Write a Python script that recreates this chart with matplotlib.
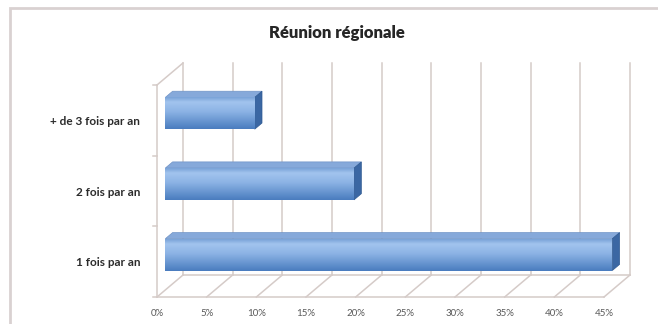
import numpy as np
import matplotlib
matplotlib.use("Agg")
import matplotlib.pyplot as plt
from matplotlib.patches import Polygon, Rectangle
from matplotlib.lines import Line2D
from matplotlib.transforms import IdentityTransform, ScaledTranslation
from matplotlib.colors import LinearSegmentedColormap

# survey answers, share of respondents (%)
categories = ["1 fois par an", "2 fois par an", "+ de 3 fois par an"]
values = [45, 19, 9]
x_ticks = [0, 5, 10, 15, 20, 25, 30, 35, 40, 45]
x_labels = ["0%", "5%", "10%", "15%", "20%", "25%", "30%", "35%", "40%", "45%"]
title = "Réunion régionale"

plt.rcParams["font.family"] = ["Lato", "DejaVu Sans"]

W, H, DPI = 658, 324, 100
fig = plt.figure(figsize=(W / DPI, H / DPI), dpi=DPI)
fig.patch.set_facecolor("white")

# front plane of the 3d box, in pixels
ax = fig.add_axes([157 / W, (H - 297) / H, 447 / W, 212 / H])
ax.set_xlim(0, 45)
ax.set_ylim(-0.5, 2.5)
ax.patch.set_alpha(0)
for s in ax.spines.values():
    s.set_visible(False)

# depth offset of the back wall (pixels, right / up)
DX, DY = 26, 22
grid_col = "#d5cbc8"


def pt(x, y, d):
    px, py = ax.transData.transform((x, y))
    return (px + d * DX, py + d * DY)


def shifted(d):
    return ax.transData + ScaledTranslation(d * DX / DPI, d * DY / DPI, fig.dpi_scale_trans)


def seg(p, q, color=grid_col, lw=1.1):
    ax.add_artist(Line2D([p[0], q[0]], [p[1], q[1]], transform=IdentityTransform(),
                         color=color, lw=lw, zorder=1, clip_on=False))


y0, y1 = -0.5, 2.5
# back wall gridlines + floor
for t in x_ticks:
    seg(pt(t, y0, 1), pt(t, y1, 1))
    seg(pt(t, y0, 0), pt(t, y0, 1))
seg(pt(0, y0, 0), pt(45, y0, 0))
seg(pt(0, y0, 1), pt(45, y0, 1))
# left wall
seg(pt(0, y0, 0), pt(0, y1, 0))
seg(pt(0, y1, 0), pt(0, y1, 1))
for c in [-0.5, 0.5, 1.5, 2.5]:
    p = pt(0, c, 0)
    seg(p, (p[0] - 4, p[1]))

# bars
h = 0.45
d0, d1 = 0.32, 0.6
face_cmap = LinearSegmentedColormap.from_list(
    "face", [(0, "#7aa3d8"), (0.15, "#a2c4ee"), (0.45, "#8cb3e5"), (1, "#4a7dbf")])
grad = np.linspace(0, 1, 64).reshape(-1, 1)
for i, v in enumerate(values):
    top, bot = i + h / 2, i - h / 2
    # top face
    ax.add_patch(Polygon([pt(0, top, d0), pt(v, top, d0), pt(v, top, d1), pt(0, top, d1)],
                         closed=True, transform=IdentityTransform(), clip_on=False,
                         facecolor="#86a9da", edgecolor="#6f93c6", lw=0.5, zorder=3))
    # end cap
    ax.add_patch(Polygon([pt(v, bot, d0), pt(v, top, d0), pt(v, top, d1), pt(v, bot, d1)],
                         closed=True, transform=IdentityTransform(), clip_on=False,
                         facecolor="#3b67a3", edgecolor="#2f5a92", lw=0.5, zorder=3))
    # front face with gradient
    im = ax.imshow(grad, cmap=face_cmap, aspect="auto", origin="upper",
                   extent=(0, v, bot, top), transform=shifted(d0), zorder=4,
                   interpolation="bilinear")
    im.set_clip_on(False)

ax.set_xlim(0, 45)
ax.set_ylim(-0.5, 2.5)

ax.set_xticks(x_ticks)
ax.set_xticklabels(x_labels, fontsize=7, color="#595959")
ax.set_yticks(range(len(categories)))
ax.set_yticklabels(categories, fontsize=8.5, fontweight="bold", color="#2b2b2b")
ax.tick_params(axis="x", length=0, pad=9)
ax.tick_params(axis="y", length=0, pad=12)

fig.text(337 / W, 1 - 33 / H, title, ha="center", va="center",
         fontsize=12, fontweight="heavy", color="#262626")

# chart area border
fig.add_artist(Rectangle((10 / W, -0.5), 2, 1.5 - 8 / H, transform=fig.transFigure,
                         fill=False, edgecolor="#d9d1d1", lw=2))

fig.savefig("out.png", dpi=DPI)
